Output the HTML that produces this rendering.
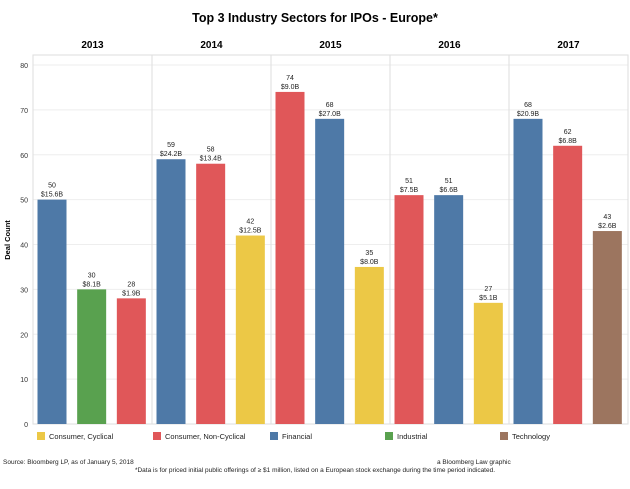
<!DOCTYPE html>
<html><head><meta charset="utf-8"><style>
body{margin:0;background:#fff;font-family:"Liberation Sans",Arial,sans-serif;}
svg text{font-family:"Liberation Sans",Arial,sans-serif;}
</style></head><body>
<svg width="630" height="484" xmlns="http://www.w3.org/2000/svg">
<text x="315" y="22" text-anchor="middle" font-size="12.5" font-weight="bold">Top 3 Industry Sectors for IPOs - Europe*</text>
<g id="grid"></g><g id="bars"></g><g id="labels"></g><g id="legend"></g>
<text transform="translate(10,240) rotate(-90)" text-anchor="middle" font-size="7.5" font-weight="bold">Deal Count</text>
<text x="3" y="464" font-size="6.5" fill="#222">Source: Bloomberg LP, as of January 5, 2018</text>
<text x="437" y="464" font-size="6.5" fill="#222">a Bloomberg Law graphic</text>
<text x="315" y="472" text-anchor="middle" font-size="6.5" fill="#222">*Data is for priced initial public offerings of ≥ $1 million, listed on a European stock exchange during the time period indicated.</text>
</svg>
<script>
const years=["2013","2014","2015","2016","2017"];
const sectors=[["Financial","Industrial","Consumer, Non-Cyclical"],["Financial","Consumer, Non-Cyclical","Consumer, Cyclical"],["Consumer, Non-Cyclical","Financial","Consumer, Cyclical"],["Consumer, Non-Cyclical","Financial","Consumer, Cyclical"],["Financial","Consumer, Non-Cyclical","Technology"]];
const counts=[[50,30,28],[59,58,42],[74,68,35],[51,51,27],[68,62,43]];
const amounts=[["$15.6B","$8.1B","$1.9B"],["$24.2B","$13.4B","$12.5B"],["$9.0B","$27.0B","$8.0B"],["$7.5B","$6.6B","$5.1B"],["$20.9B","$6.8B","$2.6B"]];
const yTicks=[0,10,20,30,40,50,60,70,80];
const legendNames=["Consumer, Cyclical","Consumer, Non-Cyclical","Financial","Industrial","Technology"];
const colors={"Consumer, Cyclical":"#ecc846","Consumer, Non-Cyclical":"#e05759","Financial":"#4e79a7","Industrial":"#59a14f","Technology":"#9c755f"};
const NS="http://www.w3.org/2000/svg";
const x0=33,x1=628,pw=(x1-x0)/5,yTop=55,y0=424,yMax=80,yPx=65;
function y(v){return y0-(v/yMax)*(y0-yPx);}
function mk(t,a,p){const e=document.createElementNS(NS,t);for(const k in a)e.setAttribute(k,a[k]);p.appendChild(e);return e;}
const g=document.getElementById('grid'),b=document.getElementById('bars'),l=document.getElementById('labels'),lg=document.getElementById('legend');
yTicks.forEach(t=>{const ln=mk('line',{x1:x0,x2:x1,y1:y(t),y2:y(t),stroke:'#eee','stroke-width':1},g);

const tx=mk('text',{x:28,y:y(t)+3,'text-anchor':'end','font-size':7,fill:'#333'},g);tx.textContent=t;
});
mk('rect',{x:x0,y:yTop,width:x1-x0,height:y0-yTop,fill:'none',stroke:'#ddd'},g);
years.forEach((yr,i)=>{const px=x0+i*pw;
if(i>0){const d=mk('line',{x1:px,x2:px,y1:yTop,y2:y0,stroke:'#ddd'},g);}
const h=mk('text',{x:px+pw/2,y:48,'text-anchor':'middle','font-size':10,'font-weight':'bold'},g);h.textContent=yr;

counts[i].forEach((c,j)=>{const bx=px+4.5+j*pw/3,bw=29;
const r=mk('rect',{x:bx,y:y(c),width:bw,height:y0-y(c),fill:colors[sectors[i][j]]},b);

const t1=mk('text',{x:bx+bw/2,y:y(c)-12,'text-anchor':'middle','font-size':7,fill:'#222'},l);t1.textContent=c;

const t2=mk('text',{x:bx+bw/2,y:y(c)-3,'text-anchor':'middle','font-size':7,fill:'#222'},l);t2.textContent=amounts[i][j];
});});
const lx=[37,153,270,385,500];
legendNames.forEach((n,i)=>{const r=mk('rect',{x:lx[i],y:432,width:8,height:8,fill:colors[n]},lg);

const t=mk('text',{x:lx[i]+12,y:439,'font-size':7.5,fill:'#222'},lg);t.textContent=n;
});
</script>
</body></html>
